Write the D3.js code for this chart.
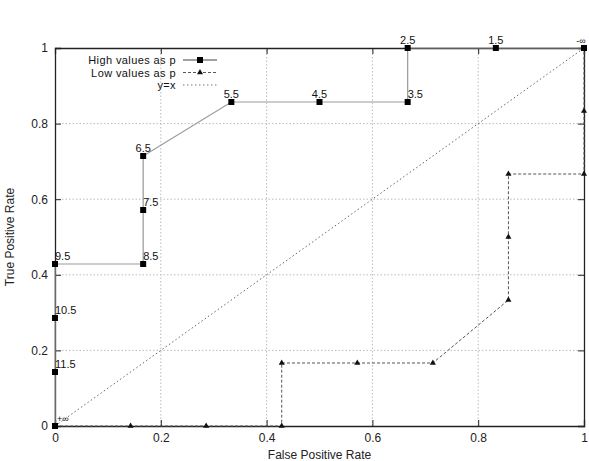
<!DOCTYPE html>
<html>
<head>
<meta charset="utf-8">
<script src="https://cdn.jsdelivr.net/npm/d3@7"></script>
<style>
  body { margin: 0; background: #fff; }
  text { font-family: "Liberation Sans", Arial, sans-serif; }
</style>
</head>
<body>
<svg id="roc"></svg>
<script>
// ROC points, high values taken as positive (threshold labels)
const highFpr = [0, 0, 0, 0, 1/6, 1/6, 1/6, 2/6, 3/6, 4/6, 4/6, 5/6, 1];
const highTpr = [0, 1/7, 2/7, 3/7, 3/7, 4/7, 5/7, 6/7, 6/7, 6/7, 1, 1, 1];
const highLabels = ["+\u221e", "11.5", "10.5", "9.5", "8.5", "7.5", "6.5", "5.5", "4.5", "3.5", "2.5", "1.5", "-\u221e"];

// ROC points, low values taken as positive
const lowFpr = [0, 1/7, 2/7, 3/7, 3/7, 4/7, 5/7, 6/7, 6/7, 6/7, 1, 1, 1];
const lowTpr = [0, 0, 0, 0, 1/6, 1/6, 1/6, 2/6, 3/6, 4/6, 4/6, 5/6, 1];

const ticks = [0, 0.2, 0.4, 0.6, 0.8, 1];
const legendNames = ["High values as p", "Low values as p", "y=x"];

(function () {
    const width = 589, height = 461;
    const m = { left: 55, right: 5, top: 48, bottom: 35 };

    const svg = d3.select("#roc")
        .attr("width", width)
        .attr("height", height);

    const x = d3.scaleLinear().domain([0, 1]).range([m.left, width - m.right]);
    const y = d3.scaleLinear().domain([0, 1]).range([height - m.bottom, m.top]);

    // grid
    svg.append("g").selectAll("line.gx")
        .data(ticks.slice(1, -1))
        .enter().append("line")
        .attr("x1", d => x(d)).attr("x2", d => x(d))
        .attr("y1", y(0)).attr("y2", y(1))
        .style("stroke", "#bbb").style("stroke-dasharray", "1.5,2");
    svg.append("g").selectAll("line.gy")
        .data(ticks.slice(1, -1))
        .enter().append("line")
        .attr("x1", x(0)).attr("x2", x(1))
        .attr("y1", d => y(d)).attr("y2", d => y(d))
        .style("stroke", "#bbb").style("stroke-dasharray", "1.5,2");

    // axes, ticks inward, mirrored
    const tk = 6;
    svg.append("g").attr("transform", `translate(0,${y(0)})`)
        .call(d3.axisBottom(x).tickValues(ticks).tickSize(-tk).tickPadding(7).tickFormat(d3.format("")));
    svg.append("g").attr("transform", `translate(0,${y(1)})`)
        .call(d3.axisTop(x).tickValues(ticks).tickSize(-tk).tickFormat(""));
    svg.append("g").attr("transform", `translate(${x(0)},0)`)
        .call(d3.axisLeft(y).tickValues(ticks).tickSize(-tk).tickPadding(7).tickFormat(d3.format("")));
    svg.append("g").attr("transform", `translate(${x(1)},0)`)
        .call(d3.axisRight(y).tickValues(ticks).tickSize(-tk).tickFormat(""));
    svg.selectAll(".domain").style("stroke", "#222").style("stroke-width", 1.3);
    svg.selectAll(".tick line").style("stroke", "#222");
    svg.selectAll(".tick text").style("font-size", "12px").style("fill", "#222")
        .style("font-family", "'Liberation Sans', Arial, sans-serif");

    // axis titles
    svg.append("text")
        .attr("x", (x(0) + x(1)) / 2).attr("y", height - 2)
        .attr("text-anchor", "middle").style("font-size", "12px").style("fill", "#222")
        .text("False Positive Rate");
    svg.append("text")
        .attr("transform", `translate(14,${(y(0) + y(1)) / 2}) rotate(-90)`)
        .attr("text-anchor", "middle").style("font-size", "12px").style("fill", "#222")
        .text("True Positive Rate");

    const high = highFpr.map((f, i) => ({ f: f, t: highTpr[i], label: highLabels[i] }));
    const low = lowFpr.map((f, i) => ({ f: f, t: lowTpr[i] }));
    const line = d3.line().x(d => x(d.f)).y(d => y(d.t));

    // y = x
    svg.append("path")
        .datum([{ f: 0, t: 0 }, { f: 1, t: 1 }])
        .attr("d", line)
        .style("fill", "none").style("stroke", "#666").style("stroke-dasharray", "1.5,2.5");

    // low values series
    svg.append("path")
        .datum(low)
        .attr("d", line)
        .style("fill", "none").style("stroke", "#555").style("stroke-dasharray", "3,2");
    const tri = d3.symbol().type(d3.symbolTriangle).size(16);
    svg.selectAll("path.tri")
        .data(low)
        .enter().append("path")
        .attr("class", "tri")
        .attr("d", tri)
        .attr("transform", d => `translate(${x(d.f)},${y(d.t)})`)
        .style("fill", "#111");

    // high values series
    svg.append("path")
        .datum(high)
        .attr("d", line)
        .style("fill", "none").style("stroke", "#999").style("stroke-width", 1.2);
    svg.selectAll("rect.sq")
        .data(high)
        .enter().append("rect")
        .attr("class", "sq")
        .attr("x", d => x(d.f) - 3).attr("y", d => y(d.t) - 3)
        .attr("width", 6).attr("height", 6)
        .style("fill", "#000");

    // threshold labels
    const leftLabels = new Set(["11.5", "10.5", "9.5", "8.5", "7.5", "3.5"]);
    const isInf = d => d.label.includes("\u221e");
    svg.selectAll("text.lbl")
        .data(high)
        .enter().append("text")
        .attr("class", "lbl")
        .attr("x", d => isInf(d) ? x(d.f) + (d.f === 0 ? 2 : -3) : x(d.f))
        .attr("y", d => y(d.t) - 4)
        .attr("text-anchor", d => isInf(d) ? (d.f === 0 ? "start" : "middle") : (leftLabels.has(d.label) ? "start" : "middle"))
        .style("font-size", d => isInf(d) ? "9px" : "11px")
        .style("fill", "#111")
        .text(d => d.label);

    // legend
    const lg = svg.append("g");
    const ly = [60, 72.5, 85];
    legendNames.forEach((name, i) => {
        lg.append("text")
            .attr("x", 176).attr("y", ly[i] + 4)
            .attr("text-anchor", "end").style("font-size", "11px").style("letter-spacing", "0.4px")
            .style("fill", "#111")
            .text(name);
    });
    lg.append("line").attr("x1", 183).attr("x2", 217).attr("y1", ly[0]).attr("y2", ly[0])
        .style("stroke", "#444");
    lg.append("rect").attr("x", 197).attr("y", ly[0] - 3).attr("width", 6).attr("height", 6).style("fill", "#000");
    lg.append("line").attr("x1", 183).attr("x2", 217).attr("y1", ly[1]).attr("y2", ly[1])
        .style("stroke", "#555").style("stroke-dasharray", "3,2");
    lg.append("path").attr("d", tri).attr("transform", `translate(200,${ly[1]})`).style("fill", "#111");
    lg.append("line").attr("x1", 183).attr("x2", 217).attr("y1", ly[2]).attr("y2", ly[2])
        .style("stroke", "#777").style("stroke-dasharray", "1.5,2.5");
})();
</script>
</body>
</html>
